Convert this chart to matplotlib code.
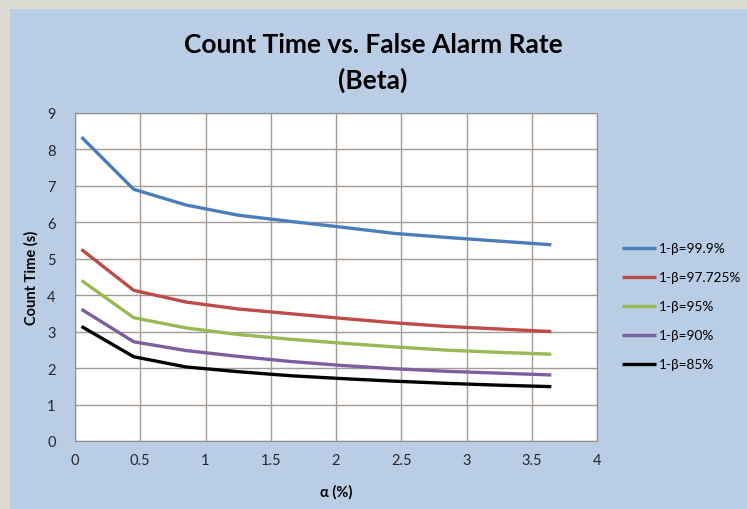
import numpy as np
import matplotlib
matplotlib.use('Agg')
import matplotlib.pyplot as plt
from matplotlib.patches import Rectangle

# false alarm rate alpha [%]
alpha = [0.05, 0.45, 0.85, 1.25, 1.65, 2.05, 2.45, 2.85, 3.25, 3.65]

# count time [s] for each detection probability 1-beta
t_999 = [8.33, 6.90, 6.47, 6.19, 6.02, 5.86, 5.69, 5.58, 5.48, 5.38]
t_97725 = [5.25, 4.13, 3.81, 3.62, 3.49, 3.36, 3.24, 3.14, 3.07, 3.00]
t_95 = [4.40, 3.38, 3.10, 2.92, 2.79, 2.68, 2.58, 2.49, 2.43, 2.38]
t_90 = [3.61, 2.72, 2.48, 2.32, 2.18, 2.07, 1.98, 1.91, 1.86, 1.81]
t_85 = [3.14, 2.31, 2.03, 1.90, 1.79, 1.71, 1.64, 1.58, 1.53, 1.49]

series = [
    ('1-β=99.9%', t_999, '#4a7ebb'),
    ('1-β=97.725%', t_97725, '#be4b48'),
    ('1-β=95%', t_95, '#98b954'),
    ('1-β=90%', t_90, '#7d5fa0'),
    ('1-β=85%', t_85, '#000000'),
]

xticks = [0, 0.5, 1, 1.5, 2, 2.5, 3, 3.5, 4]
xticklabels = ['0', '0.5', '1', '1.5', '2', '2.5', '3', '3.5', '4']
yticks = list(range(10))

plt.rcParams['font.family'] = ['Lato', 'DejaVu Sans']

W, H = 747, 510
fig = plt.figure(figsize=(W / 100, H / 100), dpi=100)
fig.patch.set_facecolor('#dcdcd4')
fig.patches.append(Rectangle((10 / W, 0), 1, (H - 10) / H, transform=fig.transFigure,
                             facecolor='#b9cde5', edgecolor='none', zorder=-1))

ax = fig.add_axes([75 / W, (H - 442) / H, 522 / W, (442 - 113.7) / H])
ax.set_facecolor('white')
for lab, y, c in series:
    ax.plot(alpha, y, color=c, lw=2.4, label=lab, solid_capstyle='butt')

ax.set_xlim(0, 4); ax.set_ylim(0, 9)
ax.set_xticks(xticks); ax.set_xticklabels(xticklabels)
ax.set_yticks(yticks)
ax.tick_params(length=0, labelsize=10.5, colors='#262626', pad=9)
ax.tick_params(axis='y', pad=14)
ax.grid(color='#a49a94', lw=1)
ax.set_axisbelow(True)
for s in ax.spines.values():
    s.set_color('#8c8c8c')

ax.set_xlabel('α (%)', fontsize=10.5, fontweight='bold', labelpad=12)
ax.set_ylabel('Count Time (s)', fontsize=10.5, fontweight='bold', labelpad=6)

fig.text(373 / W, 1 - 45 / H, 'Count Time vs. False Alarm Rate', ha='center', va='center',
         fontsize=19, fontweight='bold')
fig.text(373 / W, 1 - 80 / H, '(Beta)', ha='center', va='center',
         fontsize=19, fontweight='bold')

ax.legend(loc='center left', bbox_to_anchor=(1.024, 0.41), frameon=False, fontsize=9.8,
          handlelength=2.55, handletextpad=0.2, labelspacing=1.25)

fig.savefig('out.png', dpi=100, facecolor=fig.get_facecolor())
